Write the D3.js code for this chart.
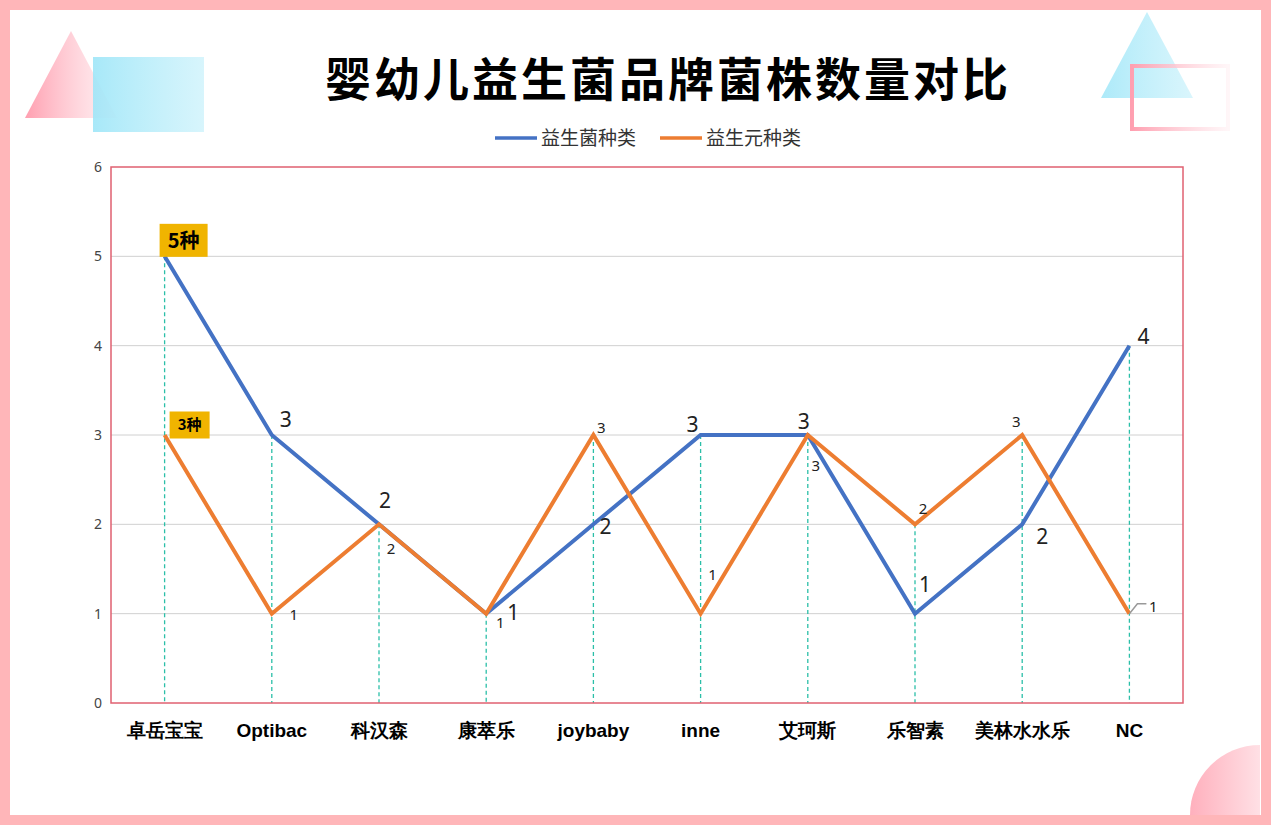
<!DOCTYPE html><html><head><meta charset="utf-8"><script src="https://cdn.jsdelivr.net/npm/d3@7"></script>
<style>body{margin:0;background:#fff}svg{display:block;font-family:"Noto Sans CJK SC","Noto Sans",sans-serif}</style></head><body>
<svg id="c" width="1271" height="825"></svg>
<script>
const categories=["卓岳宝宝","Optibac","科汉森","康萃乐","joybaby","inne","艾珂斯","乐智素","美林水水乐","NC"];
const probiotics=[5,3,2,1,2,3,3,1,2,4];
const prebiotics=[3,1,2,1,3,1,3,2,3,1];
const yTicks=[0,1,2,3,4,5,6];
const blueOff=[[0,0],[14,-8],[6,-16],[27,6],[12,10],[-8,-3],[-4,-6],[10,-22],[20,20],[14,-2]];
const orangeOff=[[0,0],[22,6],[12,30],[14,14],[8,-2],[12,-34],[8,36],[8,-10],[-6,-8],[24,-2]];
const svg=d3.select("#c");
const defs=svg.append("defs");
function grad(id,c1,c2,o1,o2){const g=defs.append("linearGradient").attr("id",id);g.append("stop").attr("offset",0).attr("stop-color",c1).attr("stop-opacity",o1);g.append("stop").attr("offset",1).attr("stop-color",c2).attr("stop-opacity",o2);}
grad("pk","#ff9fb0","#ffd0d8",1,0.3);grad("bl","#9ee6f8","#c8f1fb",1,0.8);grad("pkb","#ff9fb0","#fff0f3",1,0.6);
grad("pq","#ffb0bd","#ffe0e5",1,1);
svg.append("rect").attr("x",5).attr("y",5).attr("width",1261).attr("height",815).attr("fill","none").attr("stroke","#ffb6b9").attr("stroke-width",10);
svg.append("path").attr("d","M71,31L25,118L117,118Z").attr("fill","url(#pk)");
svg.append("rect").attr("x",93).attr("y",57).attr("width",111).attr("height",75).attr("fill","url(#bl)").attr("opacity",0.9);
svg.append("path").attr("d","M1147,12L1101,98L1193,98Z").attr("fill","url(#bl)").attr("opacity",0.85);
svg.append("rect").attr("x",1132).attr("y",66).attr("width",96).attr("height",63).attr("fill","none").attr("stroke","url(#pkb)").attr("stroke-width",4);
svg.append("path").attr("d","M1190,815A70,70 0 0 1 1260,745L1260,815Z").attr("fill","url(#pq)");
svg.append("text").attr("x",668).attr("y",96).attr("text-anchor","middle").attr("font-size",46).attr("font-weight",600).attr("letter-spacing",3).text("婴幼儿益生菌品牌菌株数量对比");
const lg=[["益生菌种类","#4472c4",495],["益生元种类","#ed7d31",660]];
lg.forEach(([t,c,x])=>{svg.append("line").attr("x1",x).attr("x2",x+42).attr("y1",138).attr("y2",138).attr("stroke",c).attr("stroke-width",3.5);
svg.append("text").attr("x",x+46).attr("y",145).attr("font-size",19).attr("fill","#333").text(t);});
const L=111,R=1183,T=167,B=703;
const x=d3.scaleBand().domain(categories).range([L,R]);
const y=d3.scaleLinear().domain([0,6]).range([B,T]);
const cx=d=>x(d)+x.bandwidth()/2;
svg.append("g").selectAll("line").data(yTicks.slice(1,6)).join("line").attr("x1",L).attr("x2",R).attr("y1",y).attr("y2",y).attr("stroke","#d0d0d0");
svg.append("g").attr("transform",`translate(${L-6},0)`).call(d3.axisLeft(y).tickValues(yTicks).tickSize(0).tickFormat(d3.format("d"))).call(g=>{g.select(".domain").remove();g.selectAll("text").attr("font-size",14).attr("fill","#444").attr("font-family","Noto Sans")});
svg.append("g").selectAll("line").data(categories).join("line").attr("x1",cx).attr("x2",cx).attr("y1",(d,i)=>y(Math.max(probiotics[i],prebiotics[i]))).attr("y2",B).attr("stroke","#2bbfa8").attr("stroke-width",1.3).attr("stroke-dasharray","4,3");
svg.append("rect").attr("x",L).attr("y",T).attr("width",R-L).attr("height",B-T).attr("fill","none").attr("stroke","#e06070").attr("stroke-width",1.5);
const line=d3.line().x((d,i)=>cx(categories[i])).y(d=>y(d));
svg.append("path").datum(probiotics).attr("d",line).attr("fill","none").attr("stroke","#4472c4").attr("stroke-width",4);
svg.append("path").datum(prebiotics).attr("d",line).attr("fill","none").attr("stroke","#ed7d31").attr("stroke-width",4);
svg.append("g").attr("transform",`translate(0,${B+17})`).call(d3.axisBottom(x).tickSize(0)).call(g=>{g.select(".domain").remove();g.selectAll("text").attr("font-size",19).attr("font-weight","bold").attr("fill","#000")});
probiotics.forEach((v,i)=>{if(i===0)return;svg.append("text").attr("x",cx(categories[i])+blueOff[i][0]).attr("y",y(v)+blueOff[i][1]).attr("text-anchor","middle").attr("font-size",21).attr("fill","#222").attr("font-family","Noto Sans").text(v);});
prebiotics.forEach((v,i)=>{if(i===0)return;svg.append("text").attr("x",cx(categories[i])+orangeOff[i][0]).attr("y",y(v)+orangeOff[i][1]).attr("text-anchor","middle").attr("font-size",15).attr("fill","#222").attr("font-family","Noto Sans").text(v);});
function tag(cxp,cyp,w,h,t,fs){svg.append("rect").attr("x",cxp-w/2).attr("y",cyp-h/2).attr("width",w).attr("height",h).attr("fill","#f0b400");
svg.append("text").attr("x",cxp).attr("y",cyp+fs*0.36).attr("text-anchor","middle").attr("font-size",fs).attr("font-weight","bold").text(t);}
tag(cx(categories[0])+19,y(probiotics[0])-16,48,33,probiotics[0]+"种",20);
tag(cx(categories[0])+25,y(prebiotics[0])-10,40,27,prebiotics[0]+"种",15);
const nx=cx(categories[9]);svg.append("path").attr("d",`M${nx},${y(1)}L${nx+8},${y(1)-10}L${nx+17},${y(1)-10}`).attr("fill","none").attr("stroke","#999").attr("stroke-width",1.5);
</script></body></html>
